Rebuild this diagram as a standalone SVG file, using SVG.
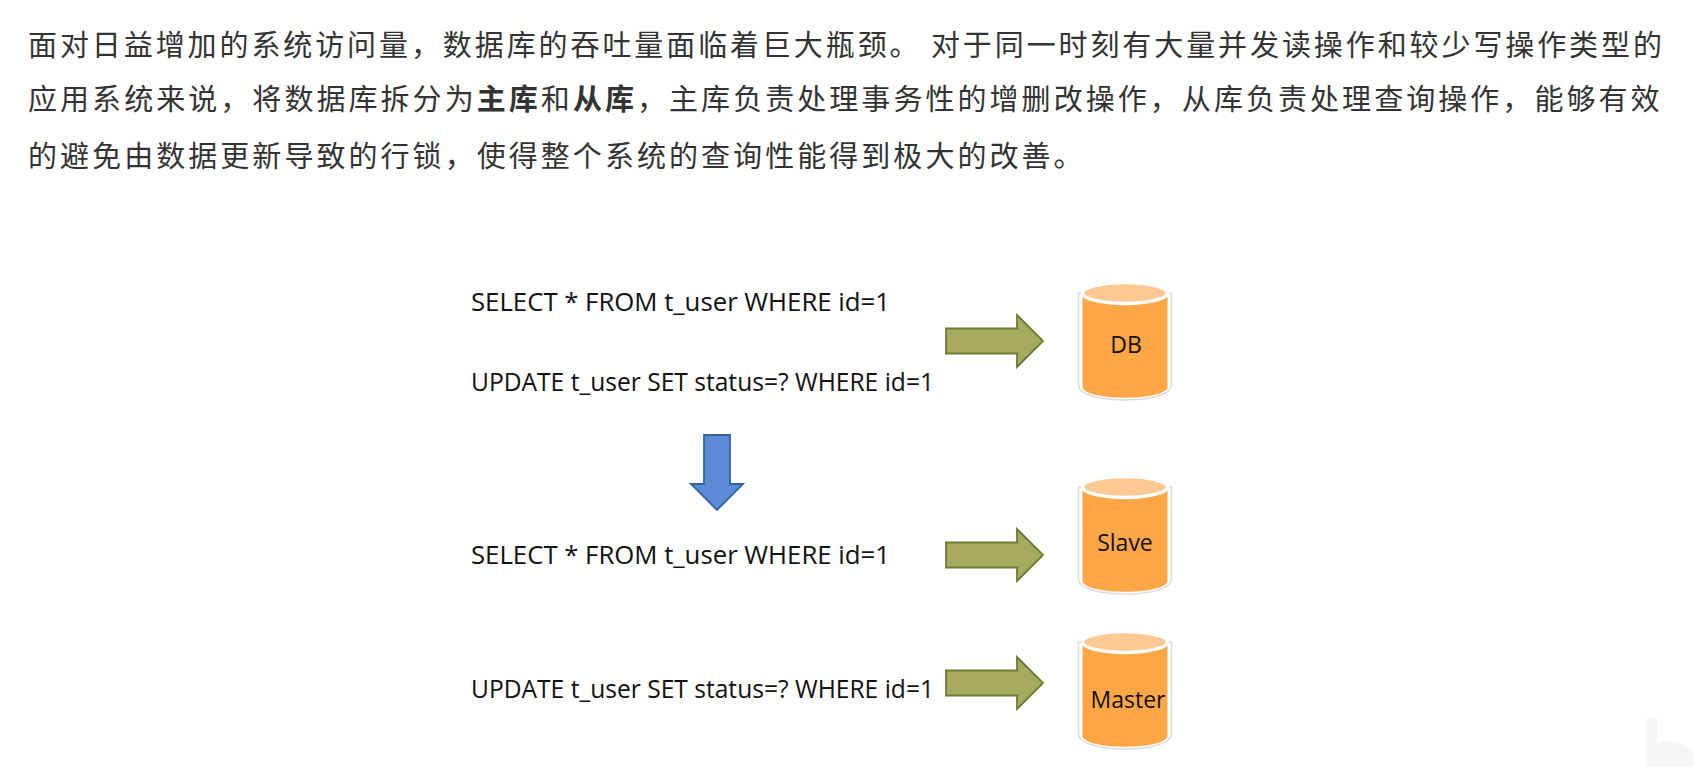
<svg xmlns="http://www.w3.org/2000/svg" width="1693" height="767" viewBox="0 0 1693 767">
<style>
.p{font:29px "Noto Sans CJK SC","Liberation Sans",sans-serif;fill:#333;letter-spacing:3.05px}
.b{font-weight:700}
.q{font:25px "Open Sans","Liberation Sans",sans-serif;fill:#111}
.n{font:23px "Open Sans","Liberation Sans",sans-serif;fill:#111;text-anchor:middle}
.a{fill:#a5aa60;stroke:#6f7a32;stroke-width:1.8}
.d{fill:#5b8ad6;stroke:#33639f;stroke-width:1.8}
.shell{fill:#fff;stroke:#dcdce6;stroke-width:1.5}
.body{fill:#ffa646}
.top{fill:#ffc993;stroke:#fff;stroke-width:3.5}
.faint{fill:#f6f6f8}
</style>
<defs>
<g id="can">
<path class="shell" d="M-46.500 0V92C-46.500 112 46.500 112 46.500 92V0Z"/>
<path class="body" d="M-42.500 0V95C-36 108 36 108 42.500 95V0Z"/>
<ellipse class="top" cx="0" cy="0" rx="42.500" ry="10.500"/>
</g>
<path id="arrow" class="a" d="M0-12.500H71V-26L97 0 71 26V12.500H0Z"/>
</defs>
<rect width="1693" height="767" fill="#fff"/>
<g id="intro">
<text class="p" x="28" y="56" textLength="1637" lengthAdjust="spacing">面对日益增加的系统访问量，数据库的吞吐量面临着巨大瓶颈。 对于同一时刻有大量并发读操作和较少写操作类型的</text>
<text class="p" x="28" y="110">应用系统来说，将数据库拆分为<tspan class="b">主库</tspan>和<tspan class="b">从库</tspan>，主库负责处理事务性的增删改操作，从库负责处理查询操作，能够有效</text>
<text class="p" x="28" y="167">的避免由数据更新导致的行锁，使得整个系统的查询性能得到极大的改善。</text>
</g>
<g id="queries">
<text class="q" x="471" y="311" textLength="419" lengthAdjust="spacingAndGlyphs">SELECT * FROM t_user WHERE id=1</text>
<text class="q" x="471" y="391" textLength="463" lengthAdjust="spacingAndGlyphs">UPDATE t_user SET status=? WHERE id=1</text>
<text class="q" x="471" y="564" textLength="419" lengthAdjust="spacingAndGlyphs">SELECT * FROM t_user WHERE id=1</text>
<text class="q" x="471" y="698" textLength="463" lengthAdjust="spacingAndGlyphs">UPDATE t_user SET status=? WHERE id=1</text>
</g>
<g id="connectors">
<use href="#arrow" x="946" y="341"/>
<use href="#arrow" x="946" y="555"/>
<use href="#arrow" x="946" y="683"/>
<path class="d" d="M704 435H730V484H743L717 510 691 484H704Z"/>
</g>
<g id="db"><use href="#can" x="1125" y="293"/><text class="n" x="1126" y="353">DB</text></g>
<g id="slave"><use href="#can" x="1125" y="487"/><text class="n" x="1125" y="551">Slave</text></g>
<g id="master"><use href="#can" x="1125" y="642"/><text class="n" x="1128" y="708">Master</text></g>
<path id="corner-mark" class="faint" d="M1646 718H1657V745C1665 738 1682 740 1693 752V767H1646Z"/>
</svg>
